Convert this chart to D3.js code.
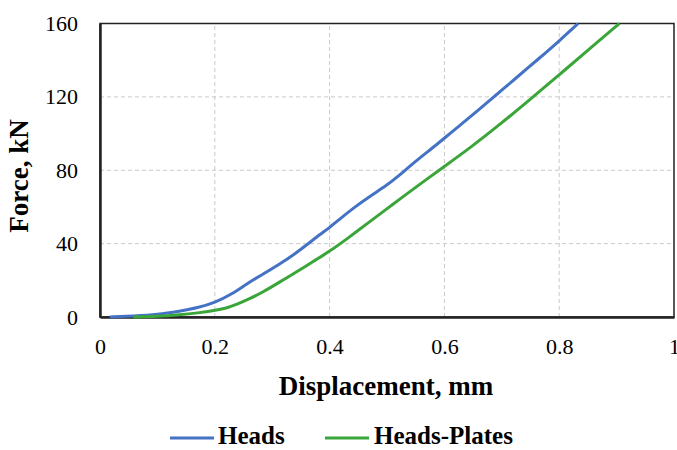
<!DOCTYPE html>
<html>
<head>
<meta charset="utf-8">
<script src="https://cdn.jsdelivr.net/npm/d3@7"></script>
<style>
  body { margin: 0; background: #fff; }
</style>
</head>
<body>
<script>
const w = 677;
const h = 450;
const margin = { top: 23.5, right: 3, bottom: 133, left: 100 };
const serif = "'Liberation Serif', 'Times New Roman', serif";

// Heads (blue)
const headsX = [0.017, 0.06, 0.10, 0.139, 0.17, 0.20, 0.23, 0.256, 0.285, 0.314, 0.34, 0.363, 0.383, 0.401, 0.42, 0.441, 0.47, 0.50, 0.52, 0.54, 0.56, 0.587, 0.615, 0.645, 0.69, 0.72, 0.767, 0.80, 0.833];
const headsF = [0, 0.5, 1.3, 3.2, 5.0, 7.8, 12.5, 18.2, 23.5, 29, 34.5, 40, 45, 49, 54, 59.3, 65.8, 71.8, 76.8, 82.3, 87.5, 94, 101.5, 109, 121, 129, 141.5, 150.5, 160];

// Heads-Plates (green)
const platesX = [0.058, 0.10, 0.139, 0.17, 0.20, 0.22, 0.238, 0.26, 0.285, 0.31, 0.343, 0.37, 0.401, 0.43, 0.47, 0.50, 0.528, 0.56, 0.595, 0.645, 0.70, 0.749, 0.80, 0.85, 0.905];
const platesF = [0, 0.3, 1.2, 2.2, 3.5, 4.8, 6.8, 9.8, 13.8, 18.5, 24.7, 30, 36, 42.5, 52, 59, 65.6, 73, 81, 92.2, 105.8, 118.5, 132, 145.5, 160];

const xTicks = [0, 0.2, 0.4, 0.6, 0.8, 1];
const yTicks = [0, 40, 80, 120, 160];

const series = [
  { name: "Heads", color: "#4472C4", x: headsX, y: headsF },
  { name: "Heads-Plates", color: "#3AA639", x: platesX, y: platesF }
];

const svg = d3.select("body").append("svg")
  .attr("width", w)
  .attr("height", h)
  .attr("font-family", serif);

const xScale = d3.scaleLinear().domain([0, 1]).range([margin.left, w - margin.right]);
const yScale = d3.scaleLinear().domain([0, 160]).range([h - margin.bottom, margin.top]);

// grid
svg.append("g")
  .selectAll("line")
  .data(xTicks.slice(1, -1))
  .enter()
  .append("line")
  .attr("x1", (d) => xScale(d))
  .attr("x2", (d) => xScale(d))
  .attr("y1", yScale(0))
  .attr("y2", yScale(160))
  .attr("stroke", "#c8c8c8")
  .attr("stroke-dasharray", "4,3");

svg.append("g")
  .selectAll("line")
  .data(yTicks.slice(1, -1))
  .enter()
  .append("line")
  .attr("x1", xScale(0))
  .attr("x2", xScale(1))
  .attr("y1", (d) => yScale(d))
  .attr("y2", (d) => yScale(d))
  .attr("stroke", "#c8c8c8")
  .attr("stroke-dasharray", "4,3");

// box
svg.append("rect")
  .attr("x", xScale(0))
  .attr("y", yScale(160))
  .attr("width", xScale(1) - xScale(0))
  .attr("height", yScale(0) - yScale(160))
  .attr("fill", "none")
  .attr("stroke", "#222")
  .attr("stroke-width", 1.5);

// axes
const xAxis = d3.axisBottom(xScale).tickValues(xTicks).tickSize(0).tickPadding(21)
  .tickFormat((d) => d === 0 || d === 1 ? d : d.toFixed(1));
svg.append("g")
  .attr("transform", "translate(0," + yScale(0) + ")")
  .call(xAxis)
  .attr("font-family", serif)
  .call((g) => g.select(".domain").attr("stroke", "#222").attr("stroke-width", 2.5))
  .selectAll("text")
  .attr("font-size", 22)
  .attr("fill", "#000");

const yAxis = d3.axisLeft(yScale).tickValues(yTicks).tickSize(0).tickPadding(22);
svg.append("g")
  .attr("transform", "translate(" + xScale(0) + ",0)")
  .call(yAxis)
  .attr("font-family", serif)
  .call((g) => g.select(".domain").attr("stroke", "#222").attr("stroke-width", 2.5))
  .selectAll("text")
  .attr("font-size", 22)
  .attr("fill", "#000");

// lines
const line = d3.line()
  .x((d) => xScale(d[0]))
  .y((d) => yScale(d[1]))
  .curve(d3.curveBasis);

series.forEach((s) => {
  svg.append("path")
    .datum(s.x.map((v, i) => [v, s.y[i]]))
    .attr("fill", "none")
    .attr("stroke", s.color)
    .attr("stroke-width", 3)
    .attr("d", line);
});

// axis titles
svg.append("text")
  .attr("x", 386)
  .attr("y", 395)
  .attr("text-anchor", "middle")
  .attr("font-weight", "bold")
  .attr("font-size", 27)
  .text("Displacement, mm");

svg.append("text")
  .attr("transform", "translate(28,176) rotate(-90)")
  .attr("text-anchor", "middle")
  .attr("font-weight", "bold")
  .attr("font-size", 27)
  .text("Force, kN");

// legend
const legendItems = [
  { x: 170, tx: 218 },
  { x: 325, tx: 374 }
];
series.forEach((s, i) => {
  const it = legendItems[i];
  svg.append("line")
    .attr("x1", it.x)
    .attr("x2", it.x + 44)
    .attr("y1", 438)
    .attr("y2", 438)
    .attr("stroke", s.color)
    .attr("stroke-width", 3);
  svg.append("text")
    .attr("x", it.tx)
    .attr("y", 444)
    .attr("font-weight", "bold")
    .attr("font-size", 25)
    .text(s.name);
});
</script>
</body>
</html>
